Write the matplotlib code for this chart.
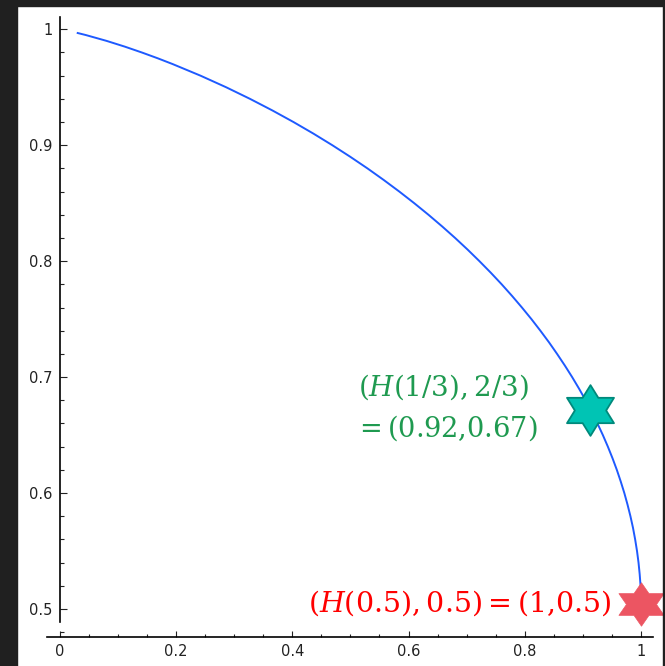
import numpy as np
import matplotlib
matplotlib.use("Agg")
import matplotlib.pyplot as plt
from matplotlib.path import Path
from matplotlib.patches import Rectangle
from matplotlib.ticker import MultipleLocator, FuncFormatter

# ---- data ----
curve_x = [0.0295, 0.0454, 0.0808, 0.1124, 0.1414, 0.1687, 0.1944, 0.2423, 0.2864, 0.3274,
           0.3659, 0.4022, 0.4365, 0.4690, 0.4999, 0.5294, 0.5574, 0.5842, 0.6098, 0.6343,
           0.6577, 0.6801, 0.7015, 0.7219, 0.7415, 0.7602, 0.7780, 0.7950, 0.8113, 0.8267,
           0.8415, 0.8554, 0.8687, 0.8813, 0.8932, 0.9044, 0.9149, 0.9248, 0.9341, 0.9427,
           0.9507, 0.9581, 0.9648, 0.9710, 0.9765, 0.9815, 0.9859, 0.9896, 0.9928, 0.9954,
           0.9974, 0.9989, 0.9994, 0.9997, 0.99993, 1.0]
curve_y = [0.997, 0.995, 0.99, 0.985, 0.98, 0.975, 0.97, 0.96, 0.95, 0.94,
           0.93, 0.92, 0.91, 0.90, 0.89, 0.88, 0.87, 0.86, 0.85, 0.84,
           0.83, 0.82, 0.81, 0.80, 0.79, 0.78, 0.77, 0.76, 0.75, 0.74,
           0.73, 0.72, 0.71, 0.70, 0.69, 0.68, 0.67, 0.66, 0.65, 0.64,
           0.63, 0.62, 0.61, 0.60, 0.59, 0.58, 0.57, 0.56, 0.55, 0.54,
           0.53, 0.52, 0.515, 0.51, 0.505, 0.50]

star1 = (0.912, 0.672)      # (H(1/3), 2/3)
star2 = (1.0, 0.504)        # (H(0.5), 0.5)
label1_line1 = r"$(H(1/3),2/3)$"
label1_line2 = r"$=(0.92{,}0.67)$"
label2 = r"$(H(0.5),0.5)=(1{,}0.5)$"

x_major = 0.2
x_minor = 0.05
y_major = 0.1
y_minor = 0.02

# ---- figure ----
plt.rcParams['mathtext.fontset'] = 'dejavuserif'
W, H = 665, 666
fig = plt.figure(figsize=(W / 100, H / 100), dpi=100)
fig.patch.set_facecolor('white')

# dark frame of the screenshot
dark = '#202020'
fig.patches.append(Rectangle((0, 0), 17.3 / W, 1, transform=fig.transFigure, color=dark, zorder=0))
fig.patches.append(Rectangle((0, 1 - 5.7 / H), 1, 5.7 / H, transform=fig.transFigure, color=dark, zorder=0))
fig.patches.append(Rectangle((663.3 / W, 0), 1, 1, transform=fig.transFigure, color=dark, zorder=0))

ax_left, ax_right = 47.0, 653.0
ax_top, ax_bottom = 17.0, 636.7
ax = fig.add_axes([ax_left / W, 1 - ax_bottom / H, (ax_right - ax_left) / W, (ax_bottom - ax_top) / H])
ax.set_facecolor('none')

x0px, x1px = 59.6, 641.2
y05px, y1px = 609.0, 29.3
sx = (x1px - x0px)
sy = (y05px - y1px) / 0.5
ax.set_xlim((ax_left - x0px) / sx, (ax_right - x0px) / sx)
ax.set_ylim(0.5 - (ax_bottom - y05px) / sy, 0.5 + (y05px - ax_top) / sy)

ax.plot(curve_x, curve_y, color='#1e5aff', lw=1.4, zorder=2, solid_capstyle='butt')


def hexagram(xstretch):
    base = Path.unit_regular_star(6, innerCircle=1 / np.sqrt(3))
    v = base.vertices.copy()
    v[:, 0] *= xstretch
    return Path(v, base.codes)


ax.plot(*star1, marker=hexagram(1.07), markersize=36.5, markerfacecolor='#00c4b4',
        markeredgecolor='#00897b', markeredgewidth=1.3, linestyle='none', zorder=3, clip_on=False)
ax.plot(*star2, marker=hexagram(1.2), markersize=32.5, markerfacecolor='#ec5562',
        markeredgecolor='#ec5562', markeredgewidth=0.5, linestyle='none', zorder=3, clip_on=False)

green = '#1f9a50'
ax.text(0.513, 0.6837, label1_line1, color=green, fontsize=20, ha='left', va='baseline')
ax.text(0.507, 0.6484, label1_line2, color=green, fontsize=19.6, ha='left', va='baseline')
ax.text(0.950, 0.4977, label2, color='#ff0000', fontsize=20.5, ha='right', va='baseline')

# ---- axes styling (Sage-like) ----
for s in ['top', 'right']:
    ax.spines[s].set_visible(False)
ax.spines['left'].set_position(('data', 0))
ax.spines['left'].set_bounds(0.5 - (622 - y05px) / sy, ax.get_ylim()[1])
ax.spines['left'].set_linewidth(1.2)
ax.spines['bottom'].set_linewidth(1.2)

ax.xaxis.set_major_locator(MultipleLocator(x_major))
ax.xaxis.set_minor_locator(MultipleLocator(x_minor))
ax.yaxis.set_major_locator(MultipleLocator(y_major))
ax.yaxis.set_minor_locator(MultipleLocator(y_minor))


def fmt(v, pos):
    s = f"{v:.1f}"
    if abs(v - round(v)) < 1e-9:
        s = str(int(round(v)))
    return s


ax.xaxis.set_major_formatter(FuncFormatter(fmt))
ax.yaxis.set_major_formatter(FuncFormatter(fmt))

ax.tick_params(which='both', direction='in', colors='#222222', width=0.8, labelsize=10.5)
ax.tick_params(axis='x', which='major', length=4.5, pad=5)
ax.tick_params(axis='x', which='minor', length=2.5)
ax.tick_params(axis='y', which='major', length=5, pad=5)
ax.tick_params(axis='y', which='minor', length=3)
ax.set_xticks([v for v in np.arange(0, 1.0001, x_major)])
ax.set_yticks([v for v in np.arange(0.5, 1.0001, y_major)])

fig.savefig('out.png', dpi=100, facecolor=fig.get_facecolor())
